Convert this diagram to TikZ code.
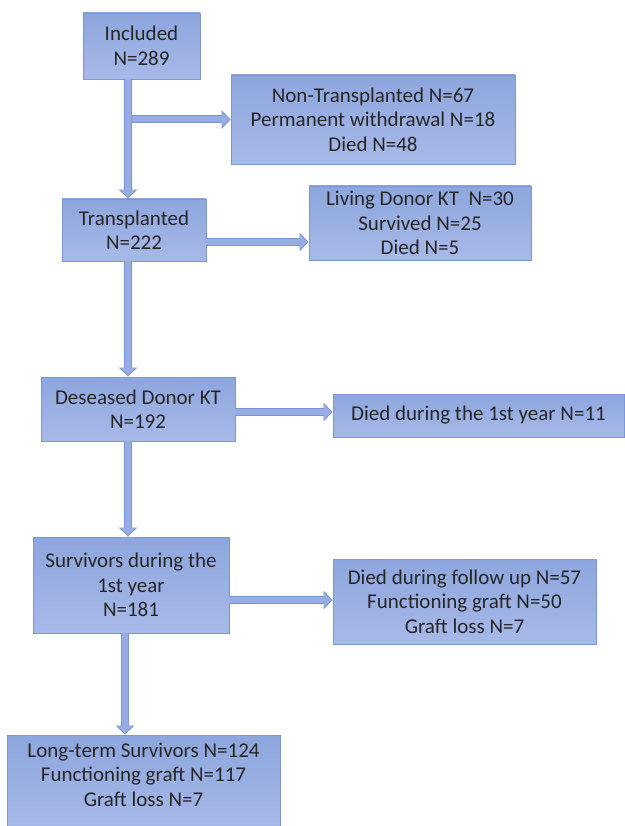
\documentclass[tikz,border=0pt]{standalone}
\usepackage{fontspec}
\setmainfont{Carlito}
\usetikzlibrary{arrows.meta}
\definecolor{boxtop}{RGB}{141,166,221}
\definecolor{boxbot}{RGB}{168,185,232}
\definecolor{boxedge}{RGB}{122,150,212}
\definecolor{arrowblue}{RGB}{150,172,226}
\tikzset{
    flowbox/.style={draw=boxedge, line width=0.8pt, top color=boxtop, bottom color=boxbot,
        align=center, inner sep=2pt, text=black!85, font=\fontsize{21}{24.5}\selectfont},
    flowarrow/.style={arrowblue, line width=6pt, shorten >=1.3pt, -{Triangle[width=15pt,length=7.5pt]},
        preaction={draw=boxedge, line width=8pt, shorten >=0pt, -{Triangle[width=18pt,length=9pt]}}}
}

\begin{document}
\begin{tikzpicture}[x=1pt,y=-1pt]
    \useasboundingbox (0,0) rectangle (624,826);
    \fill[white] (0,0) rectangle (624,826); % Page
    \node[flowbox, minimum width=117pt, minimum height=66pt] (inc) at (141.5,46) {Included\\N=289};
    \node[flowbox, minimum width=284pt, minimum height=89pt] (nontx) at (373,119.5) {Non-Transplanted N=67\\Permanent withdrawal N=18\\Died N=48};
    \node[flowbox, minimum width=144pt, minimum height=62pt] (tx) at (134,230) {Transplanted\\N=222};
    \node[flowbox, minimum width=222pt, minimum height=74pt] (living) at (420,223) {Living Donor KT\ \ N=30\\Survived N=25\\Died N=5};
    \node[flowbox, minimum width=194pt, minimum height=64pt] (dec) at (138,409) {Deseased Donor KT\\N=192};
    \node[flowbox, minimum width=291pt, minimum height=43pt] (died1) at (478.5,415.5) {Died during the 1st year N=11};
    \node[flowbox, minimum width=196pt, minimum height=96pt] (surv) at (131,585) {Survivors during the\\1st year\\N=181};
    \node[flowbox, minimum width=263pt, minimum height=85pt] (diedfu) at (464.5,601.5) {Died during follow up N=57\\Functioning graft N=50\\Graft loss N=7};
    \node[flowbox, minimum width=273pt, minimum height=100pt] (lts) at (143.5,785) {Long-term Survivors N=124\\Functioning graft N=117\\Graft loss N=7\\[-4pt]};
    % Arrows
    \coordinate (spine) at (128,0);
    \draw[flowarrow] (inc.south -| spine) -- (tx.north -| spine);
    \draw[flowarrow] ([xshift=4pt]nontx.west -| spine) -- (nontx.west);
    \coordinate (a1) at ([yshift=-12pt]tx.east);
    \draw[flowarrow] (a1) -- (a1 -| living.west);
    \draw[flowarrow] (tx.south -| spine) -- (dec.north -| spine);
    \coordinate (a2) at ([yshift=-3pt]dec.east);
    \draw[flowarrow] (a2) -- (a2 -| died1.west);
    \draw[flowarrow] (dec.south -| spine) -- (surv.north -| spine);
    \coordinate (a3) at ([yshift=-15pt]surv.east);
    \draw[flowarrow] (a3) -- (a3 -| diedfu.west);
    \draw[flowarrow] ([xshift=-3pt]surv.south -| spine) -- ([xshift=-3pt]lts.north -| spine);
\end{tikzpicture}
\end{document}
